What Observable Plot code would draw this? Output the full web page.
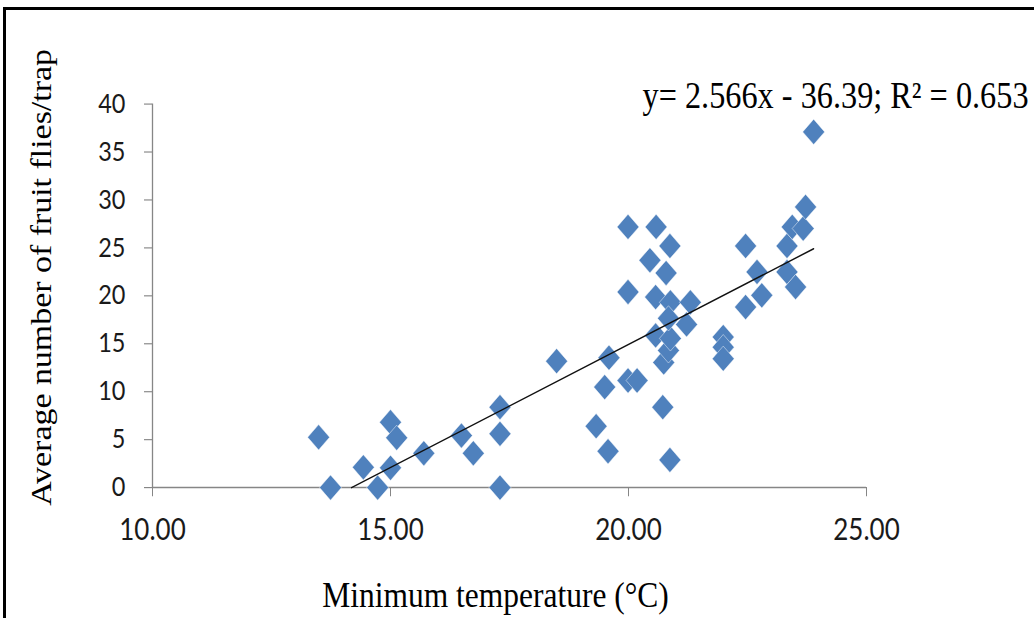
<!DOCTYPE html>
<html>
<head>
<meta charset="utf-8">
<script src="https://cdn.jsdelivr.net/npm/d3@7"></script>
<script src="https://cdn.jsdelivr.net/npm/@observablehq/plot@0.6"></script>
<style>
  html, body { margin: 0; padding: 0; background: #fff; width: 1034px; height: 618px; overflow: hidden; }
  #frame { position: absolute; left: 3px; top: 7px; width: 1100px; height: 700px; border-top: 3px solid #000; border-left: 3px solid #000; }
  #chart { position: absolute; left: 0; top: 0; transform: scaleY(1.15); transform-origin: 0 0; }
</style>
</head>
<body>
<div id="frame"></div>
<div id="chart"></div>
<script>
// Minimum temperature (°C)
const temps = [13.49, 13.74, 14.43, 14.73, 15.00, 15.13, 15.00, 15.70, 16.49, 16.74,
  17.30, 17.30, 17.30, 18.49, 19.32, 19.50, 19.57, 19.59, 19.99, 19.99,
  19.99, 20.18, 20.45, 20.58, 20.57, 20.57, 20.87, 20.79, 20.72, 20.74,
  20.84, 20.87, 20.88, 20.88, 20.84, 21.22, 21.30, 21.99, 21.99, 21.99,
  22.46, 22.46, 22.70, 22.80, 23.33, 23.33, 23.51, 23.44, 23.67, 23.72, 23.89];
// Average number of fruit flies/trap
const flies = [5.25, 0, 2.12, 0, 6.82, 5.19, 2.06, 3.58, 5.43, 3.58,
  8.39, 5.61, 0, 13.19, 6.40, 10.48, 3.79, 13.55, 27.19, 20.40,
  11.17, 11.17, 23.71, 27.19, 19.87, 15.87, 25.20, 22.38, 8.39, 13.05,
  14.31, 2.89, 19.32, 15.56, 17.65, 17.02, 19.32, 15.70, 14.65, 13.44,
  25.20, 18.83, 22.49, 20.05, 25.20, 22.49, 20.92, 27.19, 27.02, 29.27, 37.10];

const xTicks = [10, 15, 20, 25];
const yTicks = [0, 5, 10, 15, 20, 25, 30, 35, 40];
const slope = 2.566, intercept = -36.39, r2 = 0.653;
const eqLabel = `y= ${slope}x - ${Math.abs(intercept)}; R² = ${r2}`;
const xTitle = "Minimum temperature (°C)";
const yTitle = "Average number of fruit flies/trap";

const points = temps.map((t, i) => ({t, f: flies[i]}));
const xStart = -intercept / slope;
const xEnd = d3.max(temps);
const trend = [xStart, xEnd].map(x => ({x, y: slope * x + intercept}));

const axisGray = "#868686";
const blue = "#4F81BD";
const serif = "'Liberation Serif', 'Times New Roman', serif";

const chart = Plot.plot({
  width: 1034,
  height: 537,
  marginLeft: 152,
  marginRight: 168,
  marginTop: 90,
  marginBottom: 113.5,
  style: {fontFamily: "Lato, sans-serif", fontSize: "23.5px", color: "#1a1a1a", background: "transparent", overflow: "visible"},
  x: {domain: [xTicks[0], xTicks[xTicks.length - 1]]},
  y: {domain: [yTicks[0], yTicks[yTicks.length - 1]]},
  marks: [
    Plot.ruleX([xTicks[0]], {y1: yTicks[0], y2: yTicks[yTicks.length - 1], stroke: axisGray, strokeWidth: 1.3}),
    Plot.ruleY([yTicks[0]], {x1: xTicks[0], x2: xTicks[xTicks.length - 1], stroke: axisGray, strokeWidth: 1.3}),
    Plot.axisY({ticks: yTicks, tickSize: 8, tickPadding: 19, stroke: axisGray, label: null, tickFormat: d3.format("d")}),
    Plot.axisX({ticks: xTicks, tickSize: 8, tickPadding: 19, stroke: axisGray, label: null, fontSize: 26, tickFormat: d3.format(".2f")}),
    Plot.dot(points, {x: "t", y: "f", symbol: "diamond2", r: 9.9, fill: blue, stroke: "#fff", strokeWidth: 0.7, strokeOpacity: 0.6}),
    Plot.line(trend, {x: "x", y: "y", stroke: "#111", strokeWidth: 1.3}),
    Plot.text([eqLabel], {frameAnchor: "top-left", textAnchor: "start", lineAnchor: "bottom", dx: 642 - 152, dy: 3, fontFamily: serif, fontSize: 32.3, fill: "#000"}),
    Plot.text([xTitle], {frameAnchor: "bottom", textAnchor: "middle", lineAnchor: "bottom", dx: -14, dy: 104, fontFamily: serif, fontSize: 31.5, fill: "#000"}),
    Plot.text([yTitle], {frameAnchor: "left", textAnchor: "middle", lineAnchor: "middle", rotate: -90, dx: -111, dy: -16, fontFamily: serif, fontSize: 29.5, fill: "#000"})
  ]
});
document.getElementById("chart").appendChild(chart);
</script>
</body>
</html>
